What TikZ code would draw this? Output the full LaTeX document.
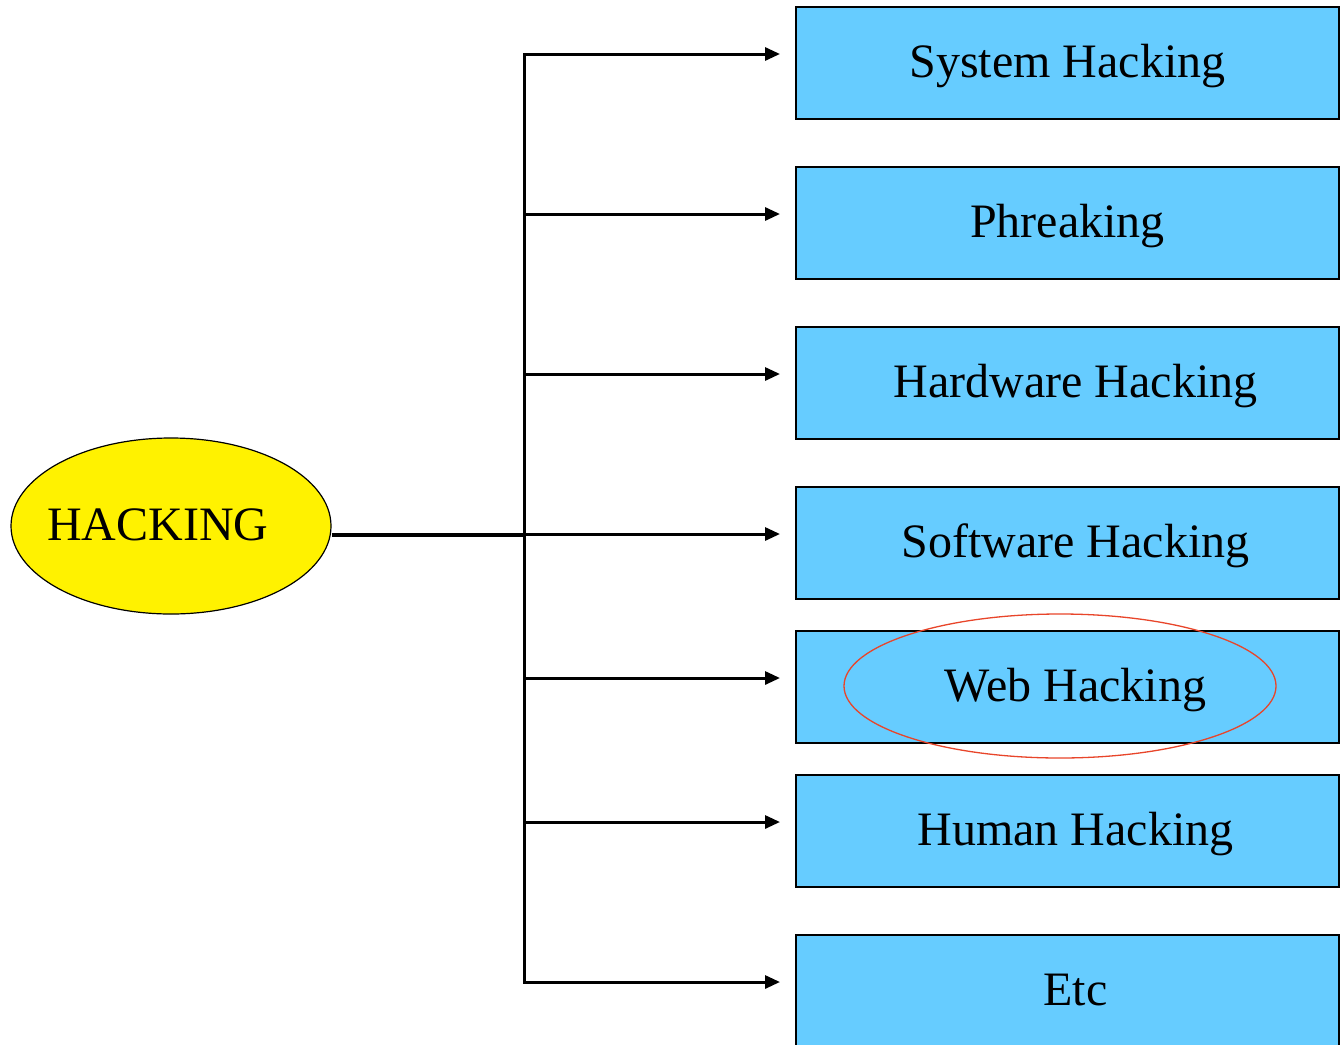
\documentclass[tikz,border=0pt]{standalone}
\usepackage{fontspec}
\setmainfont{Liberation Serif}
\usetikzlibrary{shapes.geometric,arrows.meta}
\definecolor{boxblue}{HTML}{66CCFF}
\definecolor{ringred}{HTML}{E8452A}
\begin{document}
\begin{tikzpicture}[x=1pt,y=-1pt,
  catbox/.style={draw=black,line width=2pt,fill=boxblue,rectangle,minimum width=543pt,minimum height=112pt,inner sep=0pt,text height=28pt,text depth=0pt,font=\fontsize{48}{56}\selectfont},
  conn/.style={line width=3pt,-{Triangle[length=15pt,width=13pt]}},
  every node/.style={anchor=center}]
\useasboundingbox (0,0) rectangle (1340,1044);
\clip (0,0) rectangle (1340,1044);
\node[draw=black,line width=1.2pt,fill=yellow,ellipse,minimum width=320pt,minimum height=176pt,inner sep=0pt,text height=28pt,text depth=0pt,font=\fontsize{48}{56}\selectfont] (hack) at (171,526) {\makebox[0pt]{\hspace*{-26pt}HACKING}};
\node[catbox] (sys) at (1067.5,63) {System Hacking};
\node[catbox] (phr) at (1067.5,223) {Phreaking};
\node[catbox] (hw) at (1067.5,383) {\hspace*{16pt}Hardware Hacking};
\node[catbox] (sw) at (1067.5,543) {\hspace*{16pt}Software Hacking};
\node[catbox] (web) at (1067.5,687) {\hspace*{16pt}Web Hacking};
\node[catbox] (hum) at (1067.5,831) {\hspace*{16pt}Human Hacking};
\node[catbox] (etc) at (1067.5,991) {\hspace*{16pt}Etc};
\draw[ringred,line width=1.3pt] (1060,686) ellipse [x radius=216, y radius=72];
\coordinate (top) at (524,54);
\coordinate (bot) at (524,982);
\coordinate (mid) at (524,535);
\draw[line width=3.4pt] ([yshift=-9pt]hack.east) -- (mid);
\draw[line width=3pt,{Triangle[length=15pt,width=13pt]}-{Triangle[length=15pt,width=13pt]}] ([xshift=-15pt,yshift=9pt]sys.west) -- (top) -- (bot) -- ([xshift=-15pt,yshift=9pt]etc.west);
\foreach \n in {phr,hw,sw,web,hum}{
  \coordinate (t\n) at ([xshift=-15pt,yshift=9pt]\n.west);
  \draw[conn] (top |- t\n) -- (t\n);
}
\end{tikzpicture}
\end{document}
